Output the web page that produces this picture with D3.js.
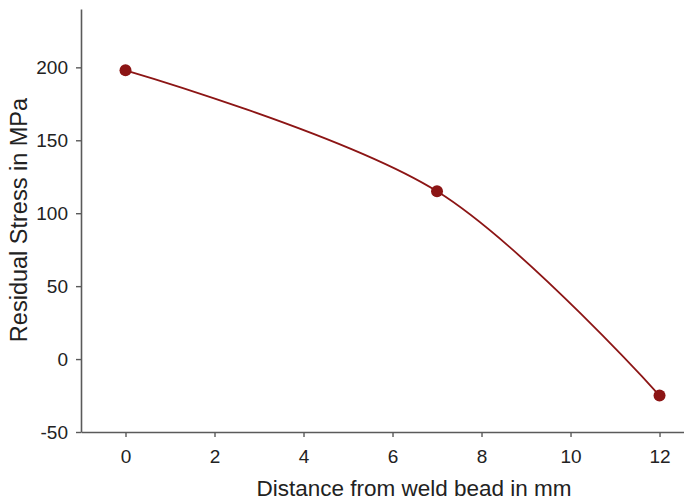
<!DOCTYPE html>
<html>
<head>
<meta charset="utf-8">
<script src="https://cdn.jsdelivr.net/npm/d3@7"></script>
<style>
  html, body { margin: 0; padding: 0; background: #fff; }
  svg { display: block; font-family: "Liberation Sans", Arial, sans-serif; }
</style>
</head>
<body>
<svg id="chart" width="684" height="501"></svg>
<script>
// Measured residual stress against distance from the weld bead
const distances = [0, 7, 12];          // mm
const stresses = [198, 115, -25];      // MPa
const xTicks = [0, 2, 4, 6, 8, 10, 12];
const yTicks = [-50, 0, 50, 100, 150, 200];
const xTitle = "Distance from weld bead in mm";
const yTitle = "Residual Stress in MPa";

const svg = d3.select("#chart");
const plotLeft = 81, plotRight = 684, plotTop = 9, plotBottom = 432;

const x = d3.scaleLinear().domain([-1, 12.55]).range([plotLeft, plotRight]);
const y = d3.scaleLinear().domain([-50, 240]).range([plotBottom, plotTop]);

const axisColor = "#5a5a5a";
const textColor = "#222";
const markColor = "#8c1515";
const plain = d => String(d);   // plain hyphen for negatives

// x axis
const gx = svg.append("g")
  .attr("transform", `translate(0,${plotBottom})`)
  .call(d3.axisBottom(x).tickValues(xTicks).tickFormat(plain)
    .tickSize(5).tickPadding(13).tickSizeOuter(0));
// y axis
const gy = svg.append("g")
  .attr("transform", `translate(${plotLeft},0)`)
  .call(d3.axisLeft(y).tickValues(yTicks).tickFormat(plain)
    .tickSize(5).tickPadding(8).tickSizeOuter(0));

[gx, gy].forEach(g => {
  g.attr("font-size", 19).attr("font-family", "'Liberation Sans', Arial, sans-serif");
  g.select(".domain").attr("stroke", axisColor).attr("stroke-width", 1.6);
  g.selectAll(".tick line").attr("stroke", axisColor).attr("stroke-width", 1.4);
  g.selectAll(".tick text").attr("fill", textColor);
});

// axis titles
svg.append("text")
  .attr("x", 414).attr("y", 496)
  .attr("text-anchor", "middle")
  .attr("fill", textColor)
  .style("font-size", "22.5px")
  .text(xTitle);

svg.append("text")
  .attr("transform", `translate(27,220) rotate(-90)`)
  .attr("text-anchor", "middle")
  .attr("fill", textColor)
  .style("font-size", "23.5px")
  .text(yTitle);

// smooth curve through the measurements
const pts = distances.map((d, i) => [d, stresses[i]]);
const line = d3.line()
  .x(d => x(d[0]))
  .y(d => y(d[1]))
  .curve(d3.curveCatmullRom.alpha(0.5));

svg.append("path")
  .datum(pts)
  .attr("d", line)
  .attr("fill", "none")
  .attr("stroke", markColor)
  .attr("stroke-width", 1.8);

svg.selectAll("circle.pt")
  .data(pts)
  .enter().append("circle")
  .attr("class", "pt")
  .attr("cx", d => x(d[0]))
  .attr("cy", d => y(d[1]))
  .attr("r", 6)
  .attr("fill", markColor);
</script>
</body>
</html>
